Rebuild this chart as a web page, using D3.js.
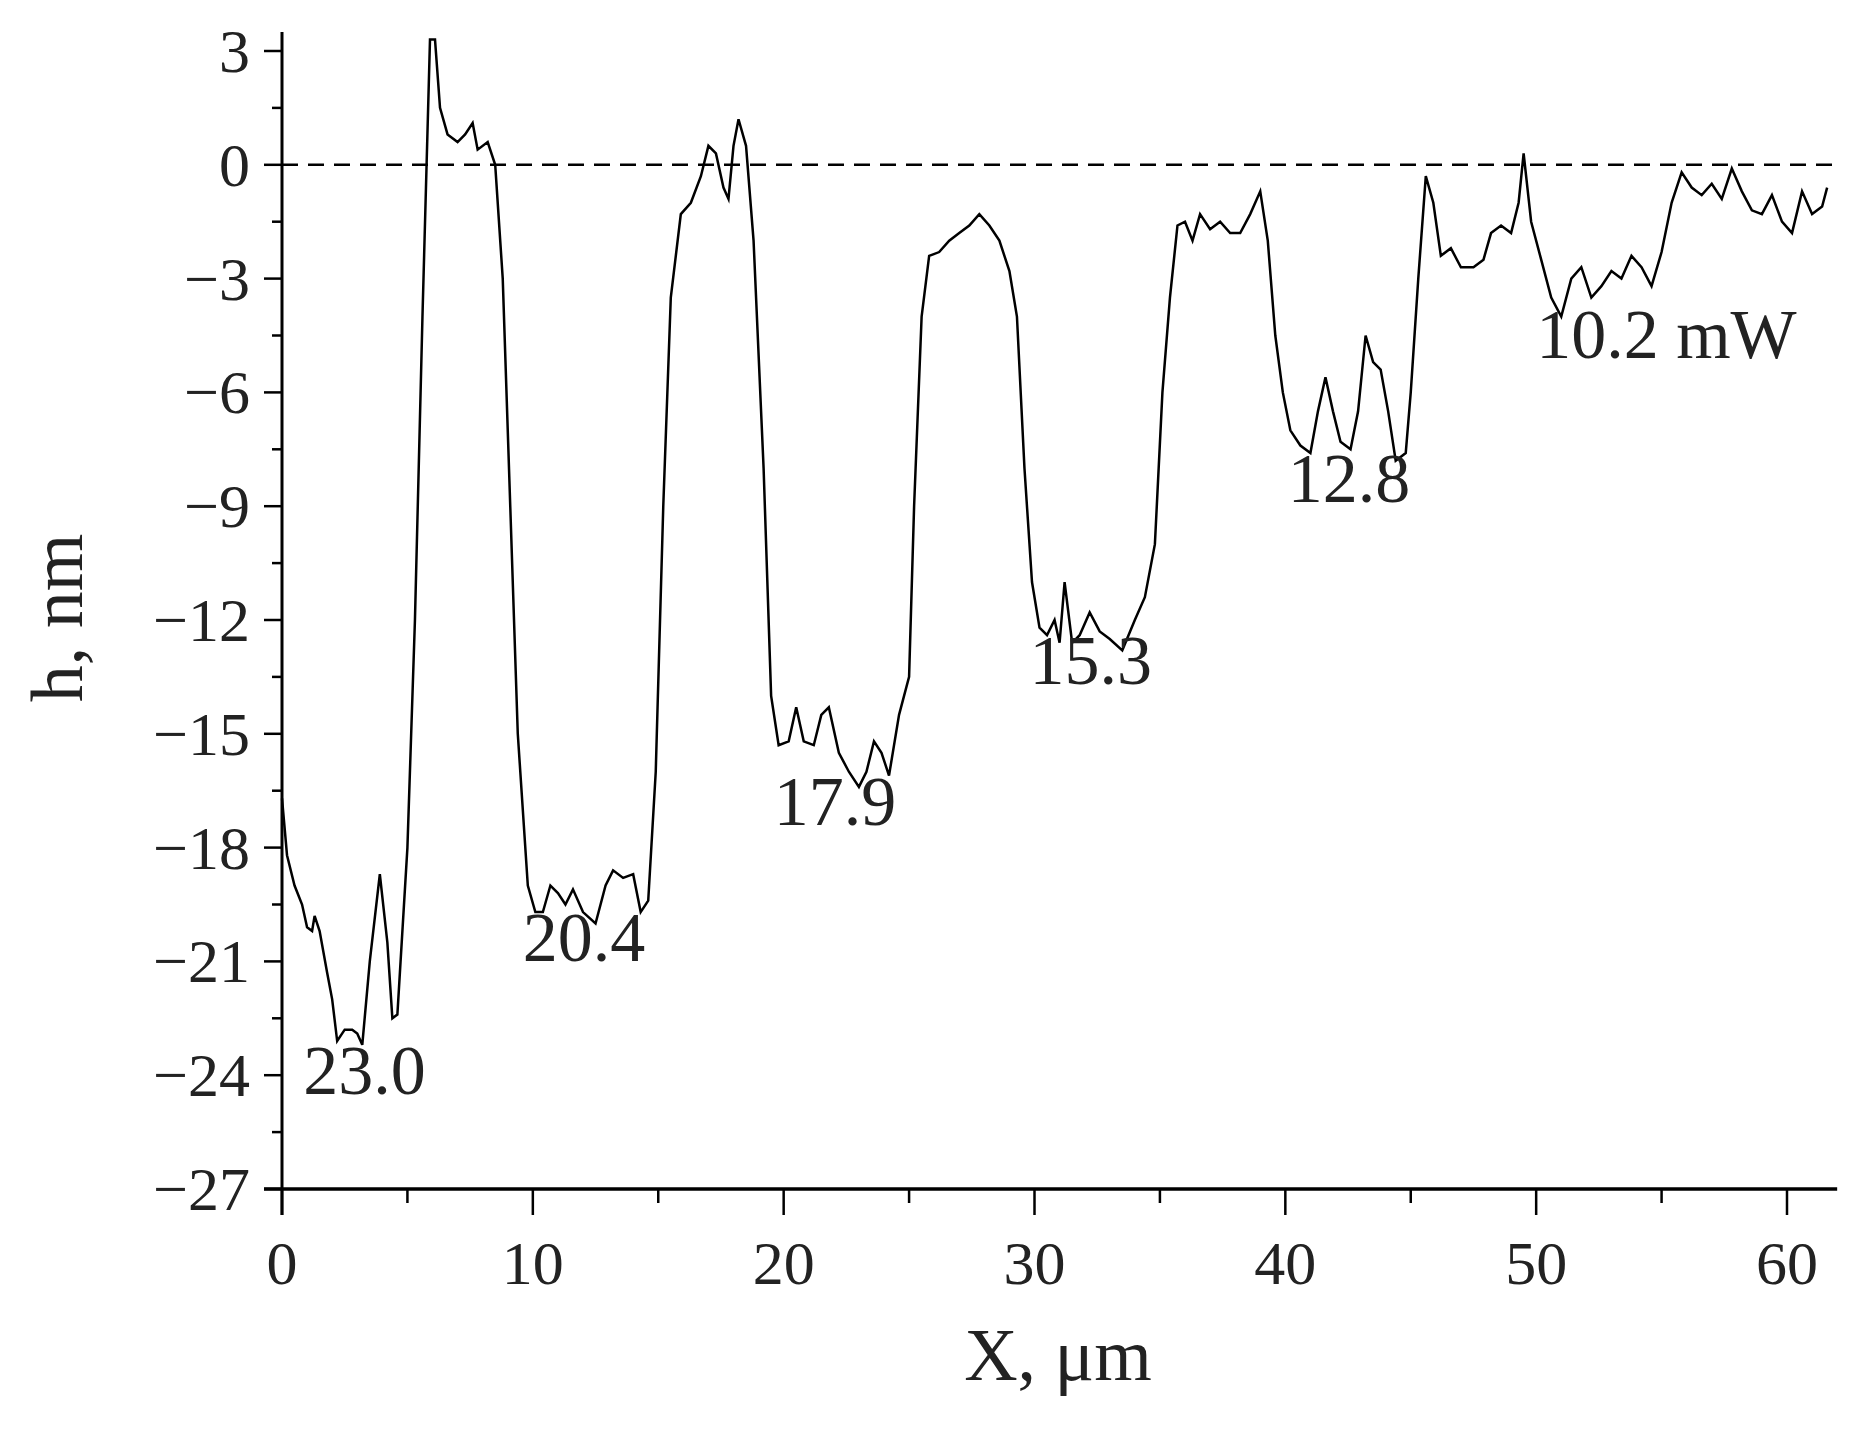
<!DOCTYPE html>
<html>
<head>
<meta charset="utf-8">
<script src="https://cdn.jsdelivr.net/npm/d3@7"></script>
<style>
  body { margin: 0; background: #fff; }
  text { font-family: "Liberation Serif", "DejaVu Serif", serif; fill: #222; }
</style>
</head>
<body>
<svg id="chart" width="1855" height="1430"></svg>
<script>
// profile, X in um, h in nm
var xs = [0,0.2,0.5,0.8,1.0,1.2,1.3,1.5,1.8,2.0,2.2,2.5,2.8,3.0,3.2,3.5,3.9,4.2,4.4,4.6,5.0,5.3,5.6,5.9,6.1,6.3,6.6,7.0,7.3,7.6,7.8,8.2,8.5,8.8,9.1,9.4,9.8,10.1,10.4,10.7,11.0,11.3,11.6,12.0,12.5,12.9,13.2,13.6,14.0,14.3,14.6,14.9,15.2,15.5,15.9,16.3,16.7,17.0,17.3,17.6,17.8,18.0,18.2,18.5,18.8,19.2,19.5,19.8,20.2,20.5,20.8,21.2,21.5,21.8,22.2,22.6,23.0,23.3,23.6,23.9,24.2,24.6,25.0,25.2,25.5,25.8,26.2,26.6,27.0,27.4,27.8,28.2,28.6,29.0,29.3,29.6,29.9,30.2,30.5,30.8,31.0,31.2,31.5,31.8,32.2,32.6,33.0,33.5,34.0,34.4,34.8,35.1,35.4,35.7,36.0,36.3,36.6,37.0,37.4,37.8,38.2,38.6,39.0,39.3,39.6,39.9,40.2,40.6,41.0,41.3,41.6,41.9,42.2,42.6,42.9,43.2,43.5,43.8,44.1,44.4,44.8,45.0,45.3,45.6,45.9,46.2,46.6,47.0,47.5,47.9,48.2,48.6,49.0,49.3,49.5,49.8,50.2,50.6,51.0,51.4,51.8,52.2,52.6,53.0,53.4,53.8,54.2,54.6,55.0,55.4,55.8,56.2,56.6,57.0,57.4,57.8,58.2,58.6,59.0,59.4,59.8,60.2,60.6,61.0,61.4,61.6];
var hs = [-16.7,-18.2,-19,-19.5,-20.1,-20.2,-19.8,-20.2,-21.3,-22,-23.1,-22.8,-22.8,-22.9,-23.2,-21,-18.7,-20.5,-22.5,-22.4,-18,-12,-4,3.3,3.3,1.5,0.8,0.6,0.8,1.1,0.4,0.6,0,-3,-9,-15,-19,-19.7,-19.7,-19,-19.2,-19.5,-19.1,-19.7,-20,-19,-18.6,-18.8,-18.7,-19.7,-19.4,-16,-9,-3.5,-1.3,-1,-0.3,0.5,0.3,-0.6,-0.9,0.5,1.2,0.5,-2,-8,-14,-15.3,-15.2,-14.3,-15.2,-15.3,-14.5,-14.3,-15.5,-16,-16.4,-16,-15.2,-15.5,-16.1,-14.5,-13.5,-9,-4,-2.4,-2.3,-2,-1.8,-1.6,-1.3,-1.6,-2,-2.8,-4,-8,-11,-12.2,-12.4,-12,-12.6,-11,-12.6,-12.4,-11.8,-12.3,-12.5,-12.8,-12,-11.4,-10,-6,-3.5,-1.6,-1.5,-2,-1.3,-1.7,-1.5,-1.8,-1.8,-1.3,-0.7,-2,-4.5,-6,-7,-7.4,-7.6,-6.5,-5.6,-6.5,-7.3,-7.5,-6.5,-4.5,-5.2,-5.4,-6.5,-7.8,-7.6,-6,-3,-0.3,-1,-2.4,-2.2,-2.7,-2.7,-2.5,-1.8,-1.6,-1.8,-1,0.3,-1.5,-2.5,-3.5,-4,-3,-2.7,-3.5,-3.2,-2.8,-3,-2.4,-2.7,-3.2,-2.3,-1,-0.2,-0.6,-0.8,-0.5,-0.9,-0.1,-0.7,-1.2,-1.3,-0.8,-1.5,-1.8,-0.7,-1.3,-1.1,-0.6];

var yTicks = [3,0,-3,-6,-9,-12,-15,-18,-21,-24,-27];
var xTicks = [0,10,20,30,40,50,60];

// laser power labels: position in data units
var labels = ["23.0","20.4","17.9","15.3","12.8","10.2 mW"];
var labelX = [0.85,9.6,19.6,29.8,40.1,50.0];
var labelY = [-24.5,-21.0,-17.4,-13.7,-8.9,-5.1];

var svg = d3.select("#chart");
var x = d3.scaleLinear().domain([0, 60]).range([282, 1787]);
var y = d3.scaleLinear().domain([3, -27]).range([51, 1189]);
var xEnd = 62;

// axes
var xAxis = d3.axisBottom(x).tickValues(d3.range(0, 65, 5)).tickSize(0).tickFormat("");
var gx = svg.append("g").attr("transform", "translate(0," + y(-27) + ")").call(xAxis);
gx.select(".domain").remove();
svg.append("line").attr("x1", x(0) - 18).attr("x2", x(xEnd)).attr("y1", y(-27)).attr("y2", y(-27))
  .attr("stroke", "#000").attr("stroke-width", 3.5);
svg.append("line").attr("x1", x(0)).attr("x2", x(0)).attr("y1", y(3.5)).attr("y2", y(-27) + 26)
  .attr("stroke", "#000").attr("stroke-width", 3);

d3.range(0, 65, 5).forEach(function(v) {
  var major = v % 10 === 0;
  svg.append("line").attr("x1", x(v)).attr("x2", x(v))
    .attr("y1", y(-27)).attr("y2", y(-27) + (major ? 26 : 14))
    .attr("stroke", "#000").attr("stroke-width", 2.5);
});
d3.range(3, -27.1, -1.5).forEach(function(v) {
  var major = Math.abs(v % 3) < 0.01;
  svg.append("line").attr("x1", x(0)).attr("x2", x(0) - (major ? 18 : 10))
    .attr("y1", y(v)).attr("y2", y(v))
    .attr("stroke", "#000").attr("stroke-width", 2.5);
});

svg.selectAll(".ylab").data(yTicks).enter().append("text")
  .attr("x", x(0) - 32).attr("y", function(d) { return y(d) + 21; })
  .attr("text-anchor", "end").attr("font-size", 62)
  .text(function(d) { return d < 0 ? "\u2212" + (-d) : d; });

svg.selectAll(".xlab").data(xTicks).enter().append("text")
  .attr("x", function(d) { return x(d); }).attr("y", y(-27) + 95)
  .attr("text-anchor", "middle").attr("font-size", 62)
  .text(function(d) { return d; });

svg.append("text").attr("x", 1058).attr("y", 1380).attr("text-anchor", "middle")
  .attr("font-size", 74).text("X, \u03bcm");
svg.append("text").attr("transform", "translate(82,618) rotate(-90)")
  .attr("text-anchor", "middle").attr("font-size", 74).text("h, nm");

// zero line
svg.append("line").attr("x1", x(0)).attr("x2", x(xEnd)).attr("y1", y(0)).attr("y2", y(0))
  .attr("stroke", "#000").attr("stroke-width", 2.5).attr("stroke-dasharray", "16,10");

// profile
var line = d3.line().x(function(d) { return x(d[0]); }).y(function(d) { return y(d[1]); });
svg.append("path").datum(d3.zip(xs, hs)).attr("d", line)
  .attr("fill", "none").attr("stroke", "#000").attr("stroke-width", 2.5);

svg.selectAll(".plab").data(labels).enter().append("text")
  .attr("x", function(d, i) { return x(labelX[i]); })
  .attr("y", function(d, i) { return y(labelY[i]); })
  .attr("font-size", 70)
  .text(function(d) { return d; });
</script>
</body>
</html>
